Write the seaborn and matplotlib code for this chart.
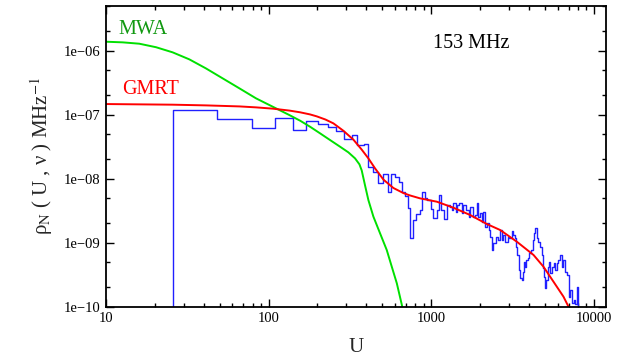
import numpy as np
import pandas as pd
import matplotlib
matplotlib.use("Agg")
import matplotlib.pyplot as plt
import seaborn as sns
from matplotlib.ticker import FixedLocator, FuncFormatter, NullFormatter, LogLocator

# ---- data (log10 values) ----
mwa_logU = [1.000, 1.103, 1.205, 1.308, 1.410, 1.513, 1.615, 1.718, 1.821, 1.923,
            2.026, 2.128, 2.194, 2.255, 2.317, 2.378, 2.440, 2.491, 2.532, 2.559,
            2.573, 2.594, 2.614, 2.645, 2.686, 2.727, 2.758, 2.789, 2.820, 2.828]
mwa_logrho = [-5.859, -5.869, -5.890, -5.945, -6.025, -6.135, -6.276, -6.432, -6.588, -6.744,
              -6.875, -7.005, -7.093, -7.187, -7.291, -7.395, -7.500, -7.588, -7.682, -7.775,
              -7.870, -8.110, -8.333, -8.593, -8.854, -9.114, -9.375, -9.635, -9.973, -10.08]

gmrt_logU = [1.000, 1.410, 1.615, 1.821, 1.923, 2.026, 2.128, 2.194, 2.255, 2.296,
             2.350, 2.399, 2.460, 2.522, 2.573, 2.614, 2.655, 2.707, 2.768, 2.830,
             2.871, 2.932, 3.035, 3.137, 3.240, 3.343, 3.425, 3.527, 3.630, 3.691,
             3.732, 3.773, 3.814, 3.845, 3.870]
gmrt_logrho = [-6.833, -6.843, -6.854, -6.870, -6.885, -6.905, -6.935, -6.962, -6.995, -7.025,
               -7.075, -7.135, -7.250, -7.390, -7.545, -7.682, -7.838, -8.015, -8.145, -8.225,
               -8.262, -8.307, -8.359, -8.453, -8.567, -8.708, -8.802, -8.984, -9.192, -9.375,
               -9.531, -9.687, -9.843, -10.0, -10.15]

data_logU = [1.300, 1.414, 1.685, 1.900, 2.042, 2.149, 2.231, 2.303, 2.364, 2.415,
             2.465, 2.512, 2.543, 2.588, 2.614, 2.645, 2.676, 2.706, 2.737, 2.752,
             2.778, 2.805, 2.820, 2.840, 2.860, 2.871, 2.891, 2.908, 2.932, 2.943,
             2.963, 2.977, 2.998, 3.014, 3.035, 3.051, 3.062, 3.080, 3.097, 3.113,
             3.127, 3.137, 3.152, 3.162, 3.174, 3.189, 3.199, 3.214, 3.230, 3.240,
             3.257, 3.267, 3.281, 3.291, 3.302, 3.312, 3.322, 3.332, 3.343, 3.353,
             3.363, 3.374, 3.383, 3.400, 3.414, 3.425, 3.435, 3.445, 3.455, 3.470,
             3.482, 3.497, 3.506, 3.517, 3.523, 3.531, 3.542, 3.548, 3.558, 3.564,
             3.572, 3.578, 3.585, 3.593, 3.605, 3.614, 3.626, 3.634, 3.640, 3.650,
             3.660, 3.671, 3.681, 3.687, 3.695, 3.702, 3.708, 3.716, 3.726, 3.732,
             3.743, 3.753, 3.763, 3.774, 3.783, 3.794, 3.804, 3.814, 3.825, 3.835,
             3.845, 3.849, 3.855, 3.866, 3.876, 3.886, 3.897, 3.903, 3.910]
data_logrho = [-12.0, -6.922, -7.063, -7.208, -7.047, -7.244, -7.098, -7.150, -7.197, -7.255,
               -7.384, -7.317, -7.473, -7.458, -7.813, -7.891, -8.063, -7.927, -8.203, -7.927,
               -7.969, -8.047, -8.203, -8.270, -8.453, -8.931, -8.645, -8.556, -8.489, -8.203,
               -8.306, -8.333, -8.478, -8.619, -8.489, -8.255, -8.489, -8.634, -8.411, -8.438,
               -8.489, -8.384, -8.516, -8.411, -8.384, -8.541, -8.411, -8.489, -8.594, -8.438,
               -8.594, -8.567, -8.384, -8.594, -8.541, -8.672, -8.516, -8.750, -8.697, -8.802,
               -8.906, -9.114, -9.009, -8.906, -8.958, -8.802, -8.958, -8.880, -8.984, -8.906,
               -8.931, -8.813, -8.880, -8.931, -9.063, -9.192, -9.427, -9.556, -9.583, -9.453,
               -9.297, -9.375, -9.270, -9.244, -9.166, -9.114, -8.958, -8.853, -8.775, -8.931,
               -8.984, -9.063, -9.192, -9.400, -9.531, -9.713, -9.583, -9.375, -9.297, -9.478,
               -9.375, -9.322, -9.427, -9.322, -9.270, -9.192, -9.375, -9.270, -9.453, -9.505,
               -9.661, -9.844, -9.739, -9.947, -9.895, -9.958, -9.692, -10.2, -12.0]

freq_label = "153 MHz"
series_labels = ["MWA", "GMRT"]

mwa = pd.DataFrame({"U": 10 ** np.array(mwa_logU), "rho": 10 ** np.array(mwa_logrho)})
gmrt = pd.DataFrame({"U": 10 ** np.array(gmrt_logU), "rho": 10 ** np.array(gmrt_logrho)})
obs = pd.DataFrame({"U": 10 ** np.array(data_logU), "rho": 10 ** np.array(data_logrho)})

sns.set_style("ticks")
plt.rcParams["font.family"] = ["Liberation Serif", "DejaVu Serif"]
plt.rcParams["mathtext.fontset"] = "stix"

fig = plt.figure(figsize=(6.27, 3.58), dpi=100)
ax = fig.add_axes([0.169, 0.1433, 0.7975, 0.8399])

sns.lineplot(data=obs, x="U", y="rho", ax=ax, color="#2020ff", lw=1.0,
             drawstyle="steps-post", estimator=None, sort=False)
sns.lineplot(data=mwa, x="U", y="rho", ax=ax, color="#00e000", lw=1.4,
             estimator=None, sort=False)
sns.lineplot(data=gmrt, x="U", y="rho", ax=ax, color="#ff0000", lw=1.4,
             estimator=None, sort=False)

ax.set_xscale("log")
ax.set_yscale("log")
ax.set_xlim(10, 11900)
ax.set_ylim(1e-10, 5e-6)

ax.xaxis.set_major_locator(FixedLocator([10, 100, 1000, 10000]))
ax.xaxis.set_major_formatter(FuncFormatter(lambda v, p: f"{int(round(v))}"))
ax.xaxis.set_minor_locator(LogLocator(base=10, subs=np.arange(2, 10)))
ax.xaxis.set_minor_formatter(NullFormatter())

ax.yaxis.set_major_locator(FixedLocator([1e-10, 1e-9, 1e-8, 1e-7, 1e-6]))
ax.yaxis.set_major_formatter(FuncFormatter(
    lambda v, p: "1e\u2212%02d" % int(round(-np.log10(v)))))
ax.yaxis.set_minor_locator(LogLocator(base=10, subs=[2.0, 5.0]))
ax.yaxis.set_minor_formatter(NullFormatter())

ax.tick_params(which="both", direction="in", top=True, right=True, colors="black",
               labelsize=10.5, width=1.0)
ax.tick_params(which="major", length=5.5, pad=4)
ax.tick_params(which="minor", length=3)
for s in ax.spines.values():
    s.set_color("black")
    s.set_linewidth(1.3)

ax.set_xlabel("U", fontsize=15, labelpad=9)
ax.set_ylabel(r"ρ$_{\mathrm{N}}$ ( U , ν ) MHz$^{-1}$", fontsize=15, labelpad=6)

ax.text(12.0, 2.14e-6, series_labels[0], color="#119911", fontsize=14.5, va="center", ha="left")
ax.text(12.5, 2.48e-7, series_labels[1], color="#ff0000", fontsize=14.5, va="center", ha="left")
ax.text(1028, 1.3e-6, freq_label, color="black", fontsize=14.5, va="center", ha="left")

fig.savefig("out.png", dpi=100)
